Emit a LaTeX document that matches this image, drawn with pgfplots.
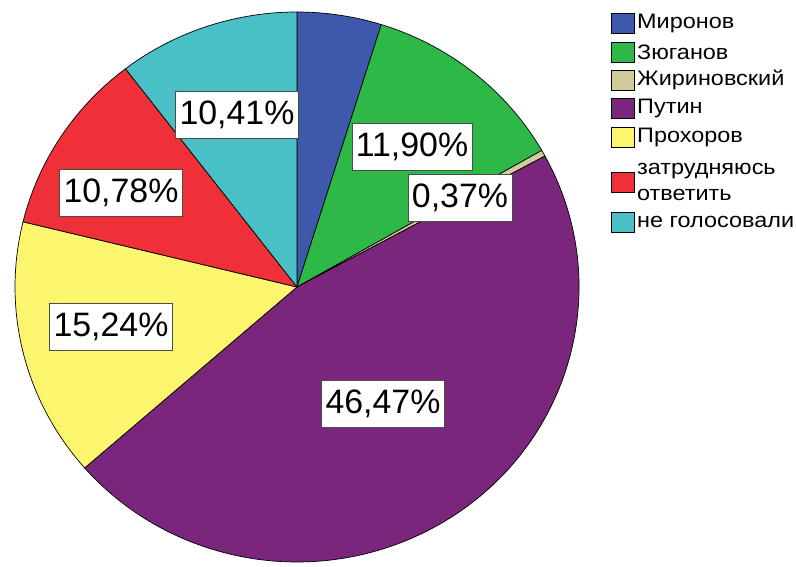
\documentclass[border=0pt]{standalone}
\usepackage{pgfplots}
\pgfplotsset{compat=1.18}
\usepackage{pgfplotstable}
\usepackage{fontspec}
\setmainfont{Liberation Sans}
\newfontfamily\legfont[FakeStretch=1.12]{Liberation Sans}

\definecolor{c0}{HTML}{3E58AC}
\definecolor{c1}{HTML}{2EB848}
\definecolor{c2}{HTML}{D2CC9C}
\definecolor{c3}{HTML}{79267C}
\definecolor{c4}{HTML}{FBF66E}
\definecolor{c5}{HTML}{EF3038}
\definecolor{c6}{HTML}{48C0C6}

% share of answers, clockwise from the top
\pgfplotstableread{
idx value lx  ly
0   4.83  0   0
1   11.90 412 420
2   0.37  460 369
3   46.47 383 163
4   15.24 111 240
5   10.78 121 374
6   10.41 237 452
}\piedata

\begin{document}
\begin{tikzpicture}
% cumulative angles
\xdef\cum{90}
\foreach \i in {0,...,6}{
  \pgfplotstablegetelem{\i}{value}\of\piedata
  \pgfmathsetmacro\e{\cum-3.6*\pgfplotsretval}
  \expandafter\xdef\csname s\i\endcsname{\cum}
  \expandafter\xdef\csname e\i\endcsname{\e}
  \xdef\cum{\e}
}
\begin{axis}[
  scale only axis,
  width=796bp, height=567bp,
  xmin=0, xmax=796, ymin=0, ymax=567,
  hide axis, clip=false,
  /pgf/number format/assume math mode=true,
]
\pgfplotsinvokeforeach{0,...,6}{
  \filldraw[fill=c#1, draw=black, line width=0.7bp]
    (axis cs:297,280) -- ++(\csname s#1\endcsname:282bp and 275bp)
    arc[start angle=\csname s#1\endcsname, end angle=\csname e#1\endcsname,
        x radius=282bp, y radius=275bp] -- cycle;
}
% value labels
\addplot[only marks, mark=none,
  nodes near coords={\pgfmathprintnumber[fixed, fixed zerofill, precision=2, use comma]{\pgfplotspointmeta}\%},
  point meta=explicit,
  every node near coord/.style={anchor=center, fill=white, draw=black!70,
    line width=0.6bp, font=\fontsize{34}{38}\selectfont,
    inner xsep=4bp, minimum height=47bp}]
  table[x=lx, y=ly, meta=value, skip coords between index={0}{1}] {\piedata};
% legend
\def\legitem#1#2#3{%
  \filldraw[fill=#1, draw=black, line width=0.6bp]
    (axis cs:611,#2-10) rectangle (axis cs:634,#2+10);
  \node[anchor=west, inner sep=0pt, align=left,
    font=\legfont\fontsize{21}{26}\selectfont] at (axis cs:637,#2) {#3};}
\legitem{c0}{544}{Миронов}
\legitem{c1}{515}{Зюганов}
\legitem{c2}{487}{Жириновский}
\legitem{c3}{459}{Путин}
\legitem{c4}{430}{Прохоров}
\legitem{c5}{385}{затрудняюсь\\ответить}
\legitem{c6}{345}{не голосовали}
\end{axis}
\pgfresetboundingbox
\path (current axis.south west) rectangle (current axis.north east);
\end{tikzpicture}
\end{document}
